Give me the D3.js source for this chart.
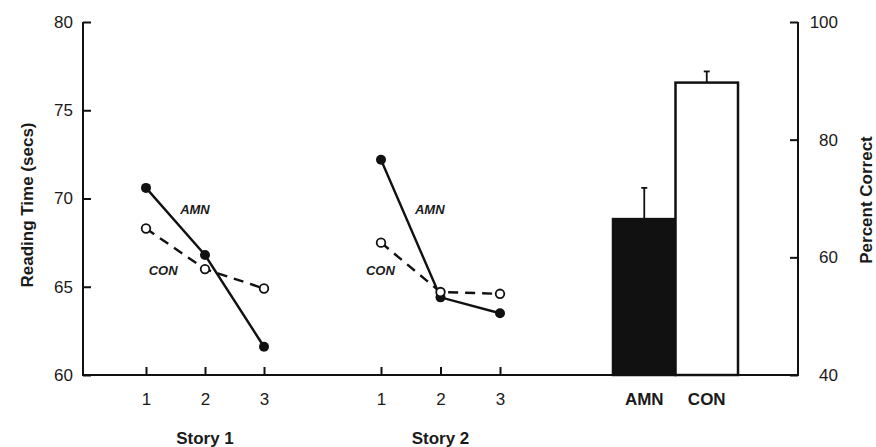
<!DOCTYPE html>
<html>
<head>
<meta charset="utf-8">
<script src="https://cdn.jsdelivr.net/npm/d3@7"></script>
<style>
  html, body { margin: 0; padding: 0; background: #fff; }
  svg { display: block; }
  text { font-family: "Liberation Sans", Arial, Helvetica, sans-serif; fill: #1a1a1a; }
</style>
</head>
<body>
<svg id="chart" width="876" height="447"></svg>
<script>
// ---- Data ----
const trials = [1, 2, 3];
const story1AMN = [70.6, 66.8, 61.6];
const story1CON = [68.3, 66.0, 64.9];
const story2AMN = [72.2, 64.4, 63.5];
const story2CON = [67.5, 64.7, 64.6];
const storyLabels = ["Story 1", "Story 2"];
const groups = ["AMN", "CON"];
const percentCorrect = [66.5, 89.7];
const percentErrTop = [71.8, 91.6];
const leftTicks = [60, 65, 70, 75, 80];
const rightTicks = [40, 60, 80, 100];
// label anchor points (data space: trial index, reading time)
const lineLabelPos = {
  s1: { AMN: [1.83, 69.4], CON: [1.29, 65.9] },
  s2: { AMN: [1.82, 69.4], CON: [0.99, 65.9] }
};

// ---- Layout ----
const svg = d3.select("#chart");
const yL = d3.scaleLinear().domain([60, 80]).range([375, 22]);
const yR = d3.scaleLinear().domain([40, 100]).range([375, 22]);
const xS1 = d3.scaleLinear().domain([1, 3]).range([146, 264]);
const xS2 = d3.scaleLinear().domain([1, 3]).range([381, 500]);
const xBar = d3.scaleBand().domain(groups).range([613, 738]).padding(0);
const leftX = 83, rightX = 798, baseY = 375;
const ink = "#111";

// Left axis
const gL = svg.append("g").attr("transform", `translate(${leftX},0)`)
  .call(d3.axisLeft(yL).tickValues(leftTicks).tickSize(-8).tickPadding(10).tickSizeOuter(0));
// Right axis
const gR = svg.append("g").attr("transform", `translate(${rightX},0)`)
  .call(d3.axisRight(yR).tickValues(rightTicks).tickSize(-8).tickPadding(40).tickSizeOuter(0));
gR.selectAll(".tick text").attr("text-anchor", "end");
// Bottom axes for stories
const gB1 = svg.append("g").attr("transform", `translate(0,${baseY})`)
  .call(d3.axisBottom(xS1).tickValues(trials).tickFormat(d3.format("d")).tickSize(-8).tickPadding(18).tickSizeOuter(0));
const gB2 = svg.append("g").attr("transform", `translate(0,${baseY})`)
  .call(d3.axisBottom(xS2).tickValues(trials).tickFormat(d3.format("d")).tickSize(-8).tickPadding(18).tickSizeOuter(0));
const gB3 = svg.append("g").attr("transform", `translate(0,${baseY})`)
  .call(d3.axisBottom(xBar).tickSize(0).tickPadding(18).tickSizeOuter(0));

[gL, gR, gB1, gB2, gB3].forEach(g => {
  g.select(".domain").remove();
  g.selectAll(".tick line").attr("stroke", ink).attr("stroke-width", 2);
  g.selectAll(".tick text").attr("font-size", 17).attr("fill", "#1a1a1a")
    .style("font-family", "'Liberation Sans', Arial, sans-serif");
});
gB3.selectAll(".tick text").attr("font-weight", "bold");

// Axis lines (frame: left, bottom, right)
svg.append("path")
  .attr("d", `M${leftX},${yL(80)}V${baseY}H${rightX}V${yR(100)}`)
  .attr("fill", "none").attr("stroke", ink).attr("stroke-width", 2);

// Bars
svg.append("g").selectAll("rect").data(groups).join("rect")
  .attr("x", d => xBar(d))
  .attr("y", (d, i) => yR(percentCorrect[i]))
  .attr("width", xBar.bandwidth())
  .attr("height", (d, i) => baseY - yR(percentCorrect[i]))
  .attr("fill", (d, i) => i === 0 ? ink : "#fff")
  .attr("stroke", ink).attr("stroke-width", 2.5);
// Error bars (upward only)
const eg = svg.append("g").attr("stroke", ink).attr("stroke-width", 1.8);
groups.forEach((g, i) => {
  const cx = xBar(g) + xBar.bandwidth() / 2;
  eg.append("line").attr("x1", cx).attr("x2", cx)
    .attr("y1", yR(percentCorrect[i])).attr("y2", yR(percentErrTop[i]));
  eg.append("line").attr("x1", cx - 3).attr("x2", cx + 3)
    .attr("y1", yR(percentErrTop[i])).attr("y2", yR(percentErrTop[i]));
});

// Lines
function drawStory(xs, amn, con, labels) {
  const line = d3.line().x((d, i) => xs(trials[i])).y(d => yL(d));
  svg.append("path").datum(con).attr("d", line)
    .attr("fill", "none").attr("stroke", ink).attr("stroke-width", 2.4)
    .attr("stroke-dasharray", "10,7");
  svg.append("path").datum(amn).attr("d", line)
    .attr("fill", "none").attr("stroke", ink).attr("stroke-width", 2.4);
  svg.append("g").selectAll("circle").data(amn).join("circle")
    .attr("cx", (d, i) => xs(trials[i])).attr("cy", d => yL(d)).attr("r", 5)
    .attr("fill", ink);
  svg.append("g").selectAll("circle").data(con).join("circle")
    .attr("cx", (d, i) => xs(trials[i])).attr("cy", d => yL(d)).attr("r", 4.3)
    .attr("fill", "#fff").attr("stroke", ink).attr("stroke-width", 1.8);
  Object.entries(labels).forEach(([k, p]) => {
    svg.append("text").attr("x", xs(p[0])).attr("y", yL(p[1]))
      .attr("text-anchor", "middle").attr("dominant-baseline", "central")
      .attr("font-size", 13).attr("font-weight", "bold").attr("font-style", "italic")
      .attr("fill", "#333").text(k);
  });
}
drawStory(xS1, story1AMN, story1CON, lineLabelPos.s1);
drawStory(xS2, story2AMN, story2CON, lineLabelPos.s2);

// Story labels
[[xS1, storyLabels[0]], [xS2, storyLabels[1]]].forEach(([xs, t]) => {
  svg.append("text").attr("x", xs(2)).attr("y", 438)
    .attr("text-anchor", "middle").attr("dominant-baseline", "central")
    .attr("font-size", 17).attr("font-weight", "bold").text(t);
});

// Axis titles
svg.append("text").attr("transform", "translate(27,205) rotate(-90)")
  .attr("text-anchor", "middle").attr("dominant-baseline", "central")
  .attr("font-size", 17).attr("font-weight", "bold").text("Reading Time (secs)");
svg.append("text").attr("transform", "translate(866,200) rotate(-90)")
  .attr("text-anchor", "middle").attr("dominant-baseline", "central")
  .attr("font-size", 17).attr("font-weight", "bold").text("Percent Correct");
</script>
</body>
</html>
